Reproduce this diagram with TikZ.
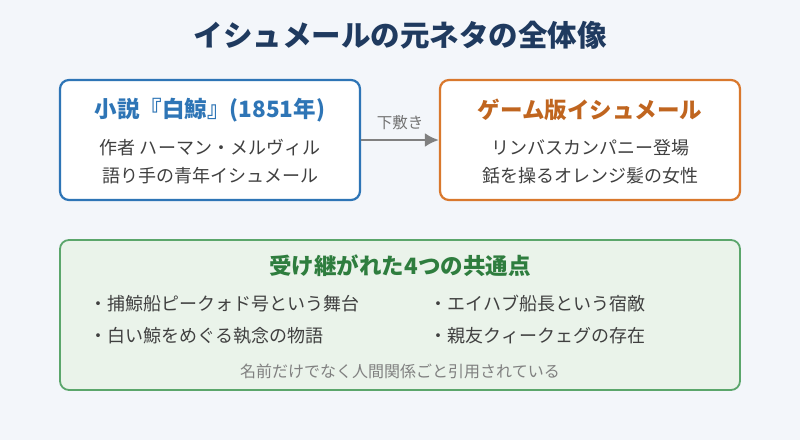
\documentclass[tikz,border=0pt]{standalone}
\usepackage{fontspec}
\usetikzlibrary{arrows.meta}
\setmainfont{Noto Sans CJK JP}
\begin{document}
\begin{tikzpicture}[x=1pt,y=-1pt,
  box/.style={draw,line width=2.2pt,rounded corners=9pt,fill=white},
  ttl/.style={font=\fontsize{22.5}{26}\selectfont\bfseries},
  body/.style={font=\fontsize{18}{22}\selectfont,text=black!75},
  item/.style={font=\fontsize{18}{22}\selectfont,text=black!75,anchor=west}]
\definecolor{bg}{HTML}{F3F6FA}
\definecolor{navy}{HTML}{1F3A5F}
\definecolor{blu}{HTML}{2E75B6}
\definecolor{org}{HTML}{D9782D}
\definecolor{orgt}{HTML}{C0651F}
\definecolor{grn}{HTML}{5BA66B}
\definecolor{grnt}{HTML}{2E7D3E}
\definecolor{grnf}{HTML}{EAF3EA}
\fill[bg] (0,0) rectangle (800,440);
\node[font=\fontsize{29.5}{33}\selectfont\bfseries,text=navy] (title) at (400,35) {イシュメールの元ネタの全体像};
\node[box,draw=blu,minimum width=300pt,minimum height=120pt] (L) at (210,140) {};
\node[ttl,text=blu] (lt) at (210,110) {小説『白鯨』(1851年)};
\node[body] (l1) at (210,148) {作者 ハーマン・メルヴィル};
\node[body] (l2) at (210,176) {語り手の青年イシュメール};
\node[box,draw=org,minimum width=300pt,minimum height=120pt] (R) at (590,140) {};
\node[ttl,text=orgt] (rt) at (590,110) {ゲーム版イシュメール};
\node[body] (r1) at (590,148) {リンバスカンパニー登場};
\node[body] (r2) at (590,176) {銛を操るオレンジ髪の女性};
\draw[line width=2.8pt,draw=black!50,-{Latex[length=14pt,width=14pt]}] (L.east) -- node[above=5pt,font=\fontsize{15.5}{18}\selectfont,text=black!55] (arl) {下敷き} (R.west);
\node[box,draw=grn,fill=grnf,line width=1.8pt,minimum width=680pt,minimum height=150pt] (B) at (400,315) {};
\node[ttl,text=grnt] (bt) at (400,266) {受け継がれた4つの共通点};
\node[item] (i1) at (86,304) {・捕鯨船ピークォド号という舞台};
\node[item] (i2) at (86,336) {・白い鯨をめぐる執念の物語};
\node[item] (i3) at (426,304) {・エイハブ船長という宿敵};
\node[item] (i4) at (426,336) {・親友クィークェグの存在};
\node[font=\fontsize{16}{18}\selectfont,text=black!50] (ft) at (400,371) {名前だけでなく人間関係ごと引用されている};
\end{tikzpicture}
\end{document}
